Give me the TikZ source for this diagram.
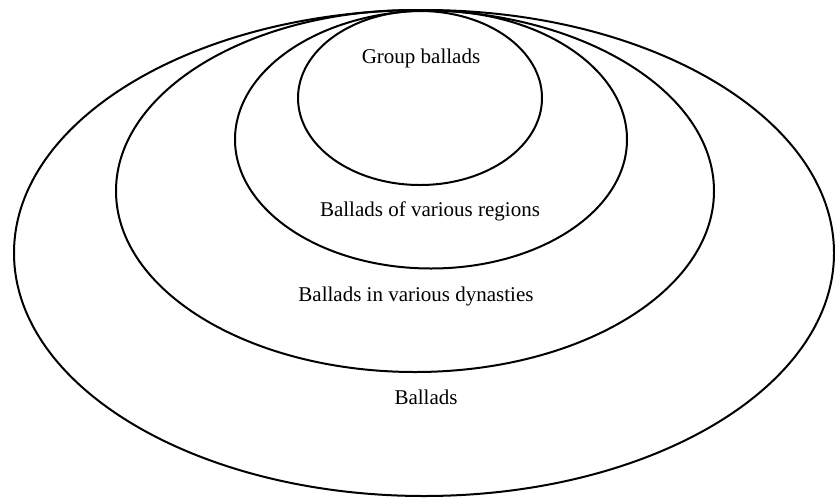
\documentclass[tikz,border=0pt]{standalone}
\usepackage{fontspec}
\setmainfont{Liberation Serif}
\usepackage{tikz}
\usetikzlibrary{positioning}
\definecolor{balladink}{RGB}{0,0,0}

\begin{document}
\begin{tikzpicture}[x=1pt,y=-1pt]
			\useasboundingbox (0,0) rectangle (835,499);
			
			\coordinate (Oall) at (424, 253);
			\coordinate (Odyn) at (415, 191);
			\coordinate (Oreg) at (431, 139.5);
			\coordinate (Ogrp) at (420, 98);
			
			\draw[line width=2pt, balladink] (Oall) ellipse [x radius=410, y radius=243];
			\draw[line width=2pt, balladink] (Odyn) ellipse [x radius=299, y radius=181];
			\draw[line width=2pt, balladink] (Oreg) ellipse [x radius=196, y radius=129];
			\draw[line width=2pt, balladink] (Ogrp) ellipse [x radius=122, y radius=87];
			
			\node[font=\fontsize{21}{25}\selectfont] (grp) at (421, 58) {Group ballads};
			\node[font=\fontsize{21}{25}\selectfont] (reg) at (430, 211) {Ballads of various regions};
			\node[font=\fontsize{21}{25}\selectfont] (dyn) at (416, 296) {Ballads in various dynasties};
			\node[font=\fontsize{21}{25}\selectfont] (all) at (426, 397) {Ballads};
		\end{tikzpicture}
\end{document}
